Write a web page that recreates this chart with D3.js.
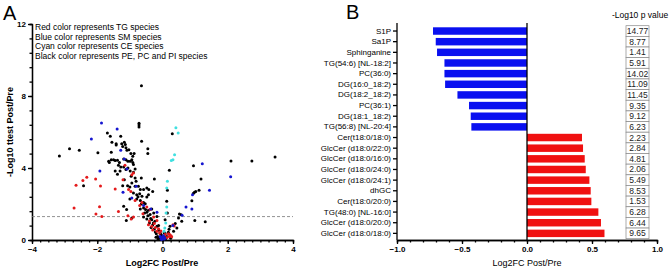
<!DOCTYPE html>
<html>
<head>
<meta charset="utf-8">
<script src="https://cdn.jsdelivr.net/npm/d3@7"></script>
<style>
  body { margin: 0; background: #fff; }
  svg { display: block; font-family: "Liberation Sans", Arial, sans-serif; }
  .axis path, .axis line { stroke: #000; stroke-width: 1.3; }
  .axis text { fill: #000; }
</style>
</head>
<body>
<div id="chart"></div>
<script>
// Panel A – volcano plot points [log2FC, -log10 p], one array per lipid class
const tgPoints = [ // red
  [-2.71,1.78],[-2.65,3.04],[-2.44,3.31],[-2.32,3.48],[-2.05,3.39],[-2.04,1.44],[-1.93,1.85],
  [-1.90,3.00],[-1.86,1.31],[-1.45,2.83],[-1.35,1.59],[-1.06,1.35],[-0.96,1.17],[-1.21,3.35],
  [-1.15,4.15],[-0.94,3.63],[-0.89,3.72],[-1.04,2.80],[-0.97,2.70],[-0.84,2.20],[-0.70,1.91],
  [-0.63,2.09],[-0.48,1.83],[-0.38,1.69],[-0.60,1.46],[-0.43,0.85],[-0.33,0.76],[-0.25,0.91],
  [-0.17,0.48],[-0.09,0.39],[0.08,0.30],[0.18,0.35],[0.21,0.20],[0.26,0.24],[0.32,0.85],
  [-0.89,1.28],[-0.27,1.28],[-0.17,1.09],[-0.12,0.62],[0.14,0.14],
  [-0.30,0.55],[-0.22,0.70],[0.22,0.30],[0.28,0.18],[-0.05,0.50],[-0.40,1.05],[0.36,0.78]
];
const smPoints = [ // blue
  [-1.87,6.50],[-1.39,6.17],[-2.18,5.61],[-1.92,3.83],[-1.28,4.98],[-1.17,4.50],[-1.09,3.94],
  [-1.21,2.65],[-0.94,2.33],[-0.81,2.98],[-0.58,1.91],[-0.36,1.72],[-0.17,1.54],[-0.07,0.20],
  [0.00,0.11],[0.05,0.06],[-0.04,0.06],[0.03,0.24],[0.72,1.83],[0.90,1.72],[0.92,2.52],
  [1.22,4.24],[1.44,2.76],[2.09,3.52],[0.32,0.80],[0.60,1.38],
  [-0.02,0.04],[0.02,0.14],[-0.06,0.16],[0.07,0.10]
];
const cePoints = [ // cyan
  [0.41,6.24],[0.48,5.94],[0.37,4.74],[0.32,4.46],[0.27,4.41],[0.15,3.26],[0.13,2.89],
  [0.13,1.83],[0.11,1.50],[0.10,0.94],[0.07,0.67],[0.05,0.48]
];
const otherPoints = [ // black: PE, PC, PI
  [-3.16,4.67],[-2.85,5.07],[-2.55,4.98],[-2.42,3.02],[-1.98,4.85],[-1.69,5.94],[-1.60,5.76],
  [-0.72,6.48],[-0.72,6.39],[-0.72,6.28],[-0.64,5.48],[-0.45,5.07],[-0.45,4.80],[-0.645,8.57],
  [0.30,5.90],[0.21,3.87],[0.95,4.13],[2.10,4.39],[2.74,4.39],[3.45,4.61],[1.18,3.39],
  [1.12,2.76],[0.98,2.65],[1.02,2.69],[0.95,2.60],[0.90,2.18],[0.52,1.44],[0.57,1.40],
  [0.99,1.09],[1.31,1.02],[0.15,2.76],[0.13,2.15],[-0.25,3.39],[-0.65,3.44],
  [-1.55,5.43],[-1.57,4.87],[-1.42,5.35],[-1.42,5.28],[-1.28,5.76],[-1.25,5.35],[-1.22,5.20],
  [-1.17,5.43],[-1.14,5.30],[-1.12,5.13],[-1.09,4.98],[-1.03,5.02],[-0.97,4.80],[-0.91,4.65],
  [-0.87,4.80],[-1.57,4.46],[-1.65,4.37],[-1.63,4.31],[-1.50,4.46],[-1.45,4.41],[-1.38,4.43],
  [-1.32,4.31],[-1.19,4.50],[-1.12,4.46],[-1.06,4.37],[-0.99,4.37],[-0.94,4.46],[-0.91,4.31],
  [-0.89,4.19],[-1.35,4.15],[-1.28,4.06],[-1.19,4.06],[-1.45,3.83],[-1.38,3.65],[-1.30,3.83],
  [-1.12,3.91],[-1.06,4.00],[-0.99,3.83],[-0.89,3.76],[-0.84,3.94],[-0.96,3.54],[-0.84,3.44],
  [-1.22,3.02],[-1.17,3.35],[-1.07,3.02],[-1.00,2.94],[-0.94,3.17],[-0.81,3.26],[-0.84,2.98],
  [-0.74,2.98],[-0.68,2.80],[-0.58,2.80],[-0.48,2.89],[-0.42,2.80],[-0.30,2.70],[-0.89,2.61],
  [-0.79,2.52],[-0.70,2.57],[-0.63,2.43],[-0.79,2.28],[-0.68,2.20],[-0.58,2.09],[-0.48,2.39],
  [-0.43,2.52],[-0.53,2.02],[-0.58,1.78],[-0.43,1.65],[-0.33,1.72],[-0.48,1.54],[-0.38,1.41],
  [-0.27,1.50],[-0.58,1.28],[-0.48,1.17],[-0.33,1.13],[-0.23,1.04],[-0.17,1.31],[-0.40,0.94],
  [-0.30,0.83],[-0.17,0.76],[-0.25,0.61],[-0.12,0.54],[-0.07,0.39],[-0.19,0.35],[-0.02,0.24],
  [-0.15,0.20],[0.03,0.17],[0.08,0.35],[0.13,0.20],[0.18,0.43],[-0.07,0.11],[-1.00,2.28],
  [-1.19,1.87],[-1.10,1.69],[-1.11,1.09],[-0.94,1.22],[-0.68,1.72],[-0.55,1.50],
  [0.23,0.76],[0.39,0.91],[0.44,0.67],[0.34,0.48],[0.59,1.04],[0.49,1.22],[0.08,1.13],[0.15,1.50],
  [-0.10,0.10],[-0.05,0.30],[0.10,0.08],[-0.22,0.45],[-0.35,0.70],[0.20,0.60],
  [-0.28,0.95],[-0.36,1.20],[-0.12,0.80],[-0.20,0.15],[0.05,0.40],[-0.45,1.35],[-0.52,1.70],
  [-0.65,2.00],[-0.75,2.40],[0.25,0.10],[-0.14,0.05]
];
const pointColors = { other: "#000000", tg: "#e41a1c", sm: "#1515d0", ce: "#40e0e0" };
const legendLines = [
  "Red color represents TG species",
  "Blue color represents SM species",
  "Cyan color represents CE species",
  "Black color represents PE, PC and PI species"
];

// Panel B – top changed lipids
const lipidNames = [
  "S1P", "Sa1P", "Sphinganine", "TG(54:6) [NL-18:2]", "PC(36:0)", "DG(16:0_18:2)",
  "DG(18:2_18:2)", "PC(36:1)", "DG(18:1_18:2)", "TG(56:8) [NL-20:4]", "Cer(t18:0/18:0)",
  "GlcCer (d18:0/22:0)", "GlcCer (d18:0/16:0)", "GlcCer (d18:0/24:0)", "GlcCer (d18:0/24:1)",
  "dhGC", "Cer(t18:0/20:0)", "TG(48:0) [NL-16:0]", "GlcCer (d18:0/20:0)", "GlcCer (d18:0/18:0)"
];
const lipidLog2FC = [
  -0.723, -0.702, -0.692, -0.635, -0.635, -0.630, -0.535, -0.446, -0.433, -0.428,
  0.423, 0.431, 0.444, 0.452, 0.480, 0.490, 0.495, 0.549, 0.569, 0.596
];
const lipidPValues = [
  "14.77", "8.77", "1.41", "5.91", "14.02", "11.09", "11.45", "9.35", "9.12", "6.23",
  "2.23", "2.84", "4.81", "2.06", "5.49", "8.53", "1.53", "6.28", "6.44", "9.65"
];

const svg = d3.select("#chart").append("svg")
  .attr("width", 669)
  .attr("height", 271);

// ---------- Panel A ----------
const xA = d3.scaleLinear().domain([-4, 4]).range([32, 293]);
const yA = d3.scaleLinear().domain([0, 12]).range([240, 24]);

svg.append("text").attr("x", 3).attr("y", 20)
  .style("font-size", "20px").text("A");

// minor ticks
svg.append("g").attr("class", "axis")
  .attr("transform", "translate(0,240)")
  .call(d3.axisBottom(xA).tickValues(d3.range(-4, 4.01, 0.25)).tickSize(2.5).tickFormat(""));
svg.append("g").attr("class", "axis")
  .attr("transform", "translate(32,0)")
  .call(d3.axisLeft(yA).tickValues(d3.range(0, 12.01, 0.8)).tickSize(2.5).tickFormat(""));

svg.append("g").attr("class", "axis")
  .attr("transform", "translate(0,240)")
  .call(d3.axisBottom(xA).tickValues([-4, -2, 0, 2, 4]).tickSize(4).tickSizeOuter(0).tickPadding(2))
  .style("font-size", "8px").style("font-weight", "bold");
svg.append("g").attr("class", "axis")
  .attr("transform", "translate(32,0)")
  .call(d3.axisLeft(yA).tickValues([0, 4, 8, 12]).tickSize(4).tickSizeOuter(0).tickPadding(2))
  .style("font-size", "8px").style("font-weight", "bold");

// significance line (p = 0.05)
svg.append("line")
  .attr("x1", xA(-4)).attr("x2", xA(4))
  .attr("y1", yA(-Math.log10(0.05))).attr("y2", yA(-Math.log10(0.05)))
  .attr("stroke", "#777").attr("stroke-width", 0.8).attr("stroke-dasharray", "3,2");

function drawPoints(data, color) {
  svg.append("g").selectAll("circle")
    .data(data)
    .join("circle")
    .attr("cx", d => xA(d[0]))
    .attr("cy", d => yA(d[1]))
    .attr("r", 1.5)
    .attr("fill", color);
}
drawPoints(otherPoints, pointColors.other);
drawPoints(tgPoints, pointColors.tg);
drawPoints(smPoints, pointColors.sm);
drawPoints(cePoints, pointColors.ce);

svg.append("g").selectAll("text")
  .data(legendLines)
  .join("text")
  .attr("x", 35)
  .attr("y", (d, i) => 30 + i * 9.6)
  .style("font-size", "8.5px")
  .text(d => d);

svg.append("text")
  .attr("transform", "rotate(-90)")
  .attr("x", -132).attr("y", 13)
  .attr("text-anchor", "middle")
  .style("font-size", "9px").style("font-weight", "bold")
  .text("-Log10 ttest Post/Pre");

svg.append("text")
  .attr("x", 162).attr("y", 266)
  .attr("text-anchor", "middle")
  .style("font-size", "9px").style("font-weight", "bold")
  .text("Log2FC Post/Pre");

// ---------- Panel B ----------
const xB = d3.scaleLinear().domain([-1, 1]).range([397, 657]);
const yB = d3.scaleBand().domain(lipidNames).range([25.7, 238.7]).paddingInner(0.3).paddingOuter(0.15);

svg.append("text").attr("x", 346).attr("y", 19)
  .style("font-size", "20px").text("B");

svg.append("g").selectAll("rect")
  .data(lipidNames)
  .join("rect")
  .attr("x", (d, i) => xB(Math.min(0, lipidLog2FC[i])))
  .attr("y", d => yB(d))
  .attr("width", (d, i) => Math.abs(xB(lipidLog2FC[i]) - xB(0)))
  .attr("height", yB.bandwidth())
  .attr("fill", (d, i) => lipidLog2FC[i] < 0 ? "#0a10f0" : "#f01010");

// zero line
svg.append("line")
  .attr("x1", xB(0)).attr("x2", xB(0))
  .attr("y1", 23).attr("y2", 240)
  .attr("stroke", "#000").attr("stroke-width", 1.3);

svg.append("g").attr("class", "axis")
  .attr("transform", "translate(0,240)")
  .call(d3.axisBottom(xB).tickValues(d3.range(-1, 1.001, 0.1)).tickSize(2.5).tickFormat(""));
svg.append("g").attr("class", "axis")
  .attr("transform", "translate(0,240)")
  .call(d3.axisBottom(xB).tickValues([-1, -0.5, 0, 0.5, 1]).tickSize(4).tickSizeOuter(0)
    .tickPadding(2).tickFormat(d3.format(".1f")))
  .style("font-size", "8px").style("font-weight", "bold");

const yAxisB = svg.append("g").attr("class", "axis")
  .attr("transform", "translate(397,0)")
  .call(d3.axisLeft(yB).tickSize(4).tickSizeOuter(0).tickPadding(2))
  .style("font-size", "8px");
yAxisB.select(".domain").attr("d", "M0,23V240");

svg.append("text")
  .attr("x", 527).attr("y", 266)
  .attr("text-anchor", "middle")
  .style("font-size", "9px")
  .text("Log2FC Post/Pre");

// p-value table
svg.append("text")
  .attr("x", 640).attr("y", 18)
  .attr("text-anchor", "middle")
  .style("font-size", "8.5px")
  .text("-Log10 p value");

const cellStep = yB.step();
const cells = svg.append("g").selectAll("g")
  .data(lipidNames)
  .join("g");
cells.append("rect")
  .attr("x", 626)
  .attr("y", d => yB(d) + yB.bandwidth() / 2 - cellStep / 2)
  .attr("width", 23)
  .attr("height", cellStep)
  .attr("fill", "#fff")
  .attr("stroke", "#888")
  .attr("stroke-width", 0.7);
cells.append("text")
  .attr("x", 637.5)
  .attr("y", d => yB(d) + yB.bandwidth() / 2 + 3)
  .attr("text-anchor", "middle")
  .style("font-size", "8.5px")
  .attr("fill", "#222")
  .text((d, i) => lipidPValues[i]);
</script>
</body>
</html>
